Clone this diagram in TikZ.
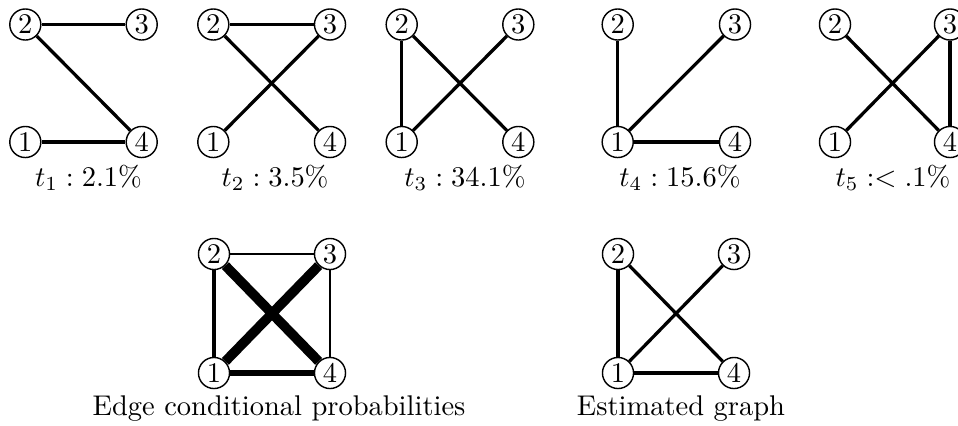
\documentclass[tikz,border=0pt]{standalone}
\begin{document}
\begin{tikzpicture}[x=0.3509pt,y=-0.3509pt,
  vtx/.style={circle,draw,line width=0.5pt,inner sep=0.8pt,minimum size=10.9pt,fill=white},
  edg/.style={line width=1.15pt},
  lbl/.style={anchor=base,inner sep=0pt}]
\useasboundingbox (0,0) rectangle (958,425);
% graph t1
\node[vtx] (a2) at (25.3,24.5) {2};
\node[vtx] (a3) at (141.7,24.5) {3};
\node[vtx] (a1) at (25.3,142) {1};
\node[vtx] (a4) at (141.7,142) {4};
\draw[edg] (a2) -- (a3);
\draw[edg] (a2) -- (a4);
\draw[edg] (a1) -- (a4);
\node[lbl] (la) at (88.5,186) {$t_1 : 2.1\%$};
% graph t2
\node[vtx] (b2) at (213.3,24.5) {2};
\node[vtx] (b3) at (330,24.5) {3};
\node[vtx] (b1) at (213.3,142) {1};
\node[vtx] (b4) at (330,142) {4};
\draw[edg] (b2) -- (b3);
\draw[edg] (b2) -- (b4);
\draw[edg] (b1) -- (b3);
\node[lbl] (lb) at (275,186) {$t_2 : 3.5\%$};
% graph t3
\node[vtx] (c2) at (401.7,24.5) {2};
\node[vtx] (c3) at (518.3,24.5) {3};
\node[vtx] (c1) at (401.7,142) {1};
\node[vtx] (c4) at (518.3,142) {4};
\draw[edg] (c2) -- (c1);
\draw[edg] (c2) -- (c4);
\draw[edg] (c1) -- (c3);
\node[lbl] (lc) at (465,186) {$t_3 : 34.1\%$};
% graph t4
\node[vtx] (d2) at (617.7,24.5) {2};
\node[vtx] (d3) at (735,24.5) {3};
\node[vtx] (d1) at (617.7,142) {1};
\node[vtx] (d4) at (735,142) {4};
\draw[edg] (d2) -- (d1);
\draw[edg] (d1) -- (d3);
\draw[edg] (d1) -- (d4);
\node[lbl] (ld) at (680,186) {$t_4 : 15.6\%$};
% graph t5
\node[vtx] (e2) at (835,24.5) {2};
\node[vtx] (e3) at (950,24.5) {3};
\node[vtx] (e1) at (835,142) {1};
\node[vtx] (e4) at (950,142) {4};
\draw[edg] (e2) -- (e4);
\draw[edg] (e1) -- (e3);
\draw[edg] (e3) -- (e4);
\node[lbl] (le) at (893,186) {$t_5 :< .1\%$};
% edge conditional probabilities
\node[vtx] (f2) at (214,254) {2};
\node[vtx] (f3) at (330,254) {3};
\node[vtx] (f1) at (214,373) {1};
\node[vtx] (f4) at (330,373) {4};
\draw[line width=0.45pt] (f2) -- (f3);
\draw[line width=0.45pt] (f3) -- (f4);
\draw[line width=1.6pt] (f2) -- (f1);
\draw[line width=1.8pt] (f1) -- (f4);
\draw[line width=3.4pt] (f2) -- (f4);
\draw[line width=3.4pt] (f1) -- (f3);
\node[lbl] (lf) at (279,415) {Edge conditional probabilities};
% estimated graph
\node[vtx] (g2) at (618,254) {2};
\node[vtx] (g3) at (734,254) {3};
\node[vtx] (g1) at (618,373) {1};
\node[vtx] (g4) at (734,373) {4};
\draw[edg] (g2) -- (g1);
\draw[edg] (g2) -- (g4);
\draw[edg] (g1) -- (g3);
\draw[edg] (g1) -- (g4);
\node[lbl] (lg) at (681,415) {Estimated graph};
\end{tikzpicture}
\end{document}
